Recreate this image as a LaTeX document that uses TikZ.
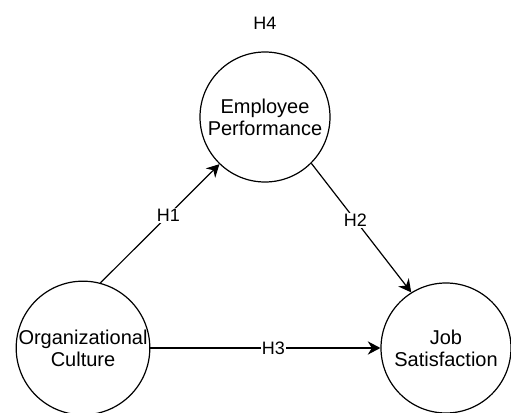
\documentclass[tikz,border=0pt]{standalone}
\usepackage{fontspec}
\setmainfont{Liberation Sans}
\usetikzlibrary{arrows.meta}

\begin{document}
\begin{tikzpicture}[x=0.75pt,y=-0.75pt, % pixel-like units, y down
  construct/.style={draw, circle, line width=0.9pt, minimum size=97.5pt, inner sep=0pt,
    align=center, font=\fontsize{15}{16.5}\selectfont},
  hyp/.style={fill=white, inner sep=1pt, font=\fontsize{13.5}{16}\selectfont},
  path/.style={line width=0.9pt, -{Stealth[length=9.5pt,width=10pt]}}]
\useasboundingbox (0,0) rectangle (511,413);

\node[construct] (ep) at (265,117) {Employee\\Performance};
\node[construct] (oc) at (83,348) {Organizational\\Culture};
\node[construct] (js) at (446,348) {Job\\Satisfaction};
\node[font=\fontsize{13.5}{16}\selectfont] (h4) at (265,23) {H4}; % mediation

\draw[path] (oc.75) -- node[hyp, pos=0.57] {H1} (ep.226);
\draw[path] (ep.-45) -- node[hyp, pos=0.44] {H2} (js.122);
\draw[path] (oc.east) -- node[hyp, pos=0.535] {H3} (js.west);
\end{tikzpicture}
\end{document}
